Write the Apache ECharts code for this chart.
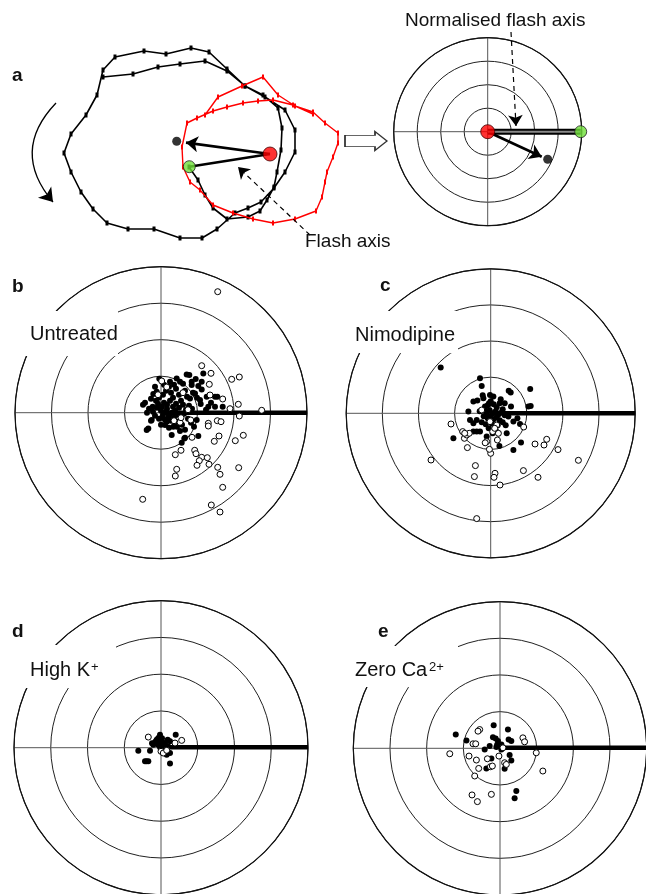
<!DOCTYPE html>
<html><head><meta charset="utf-8">
<script src="https://cdn.jsdelivr.net/npm/echarts@6/dist/echarts.min.js"></script>
<style>html,body{margin:0;padding:0;background:#fff}#c{width:646px;height:894px}</style>
</head><body><div id="c"></div>
<script>
// ---------- Panel a (left): cell trajectories, read in picture units ----------
const blackTrajectory = [[189,167],[198,180],[205,195],[213,208],[227,219],[248,217],[260,211],[267,200],[274,187],[277,172],[281,150],[282,128],[278,108],[263,95],[245,86],[227,69],[209,52],[191,48],[166,54],[144,51],[115,57],[103,70],[97,95],[86,115],[71,134],[64,153],[71,172],[81,192],[93,209],[107,223],[128,229],[154,229],[180,238],[202,238],[217,229],[235,213],[248,208],[261,202],[274,188],[285,172],[295,152],[295,130],[285,110],[265,97],[245,86],[227,71],[205,61],[180,64],[158,67],[133,74],[103,77]];
const redTrajectory = [[205,115],[218,97],[242,86],[263,77],[278,95],[295,106],[313,112],[325,123],[338,133],[338,143],[333,157],[327,172],[325,182],[322,197],[316,211],[295,219],[273,223],[253,219],[233,213],[213,205],[200,190],[190,182],[183,167],[182,147],[187,123],[197,118],[213,111],[227,107],[243,103],[258,101],[273,100],[293,105],[313,114]];
const redCentre = [270,154];
const blackCentre = [176.7,141.3];
const greenPoint = [189.3,166.7];
const blackArrowTip = [186,142.6];
const flashPointer = [[310,235],[238,167]];
const normPointer = [[511,32],[516,126]];
const turnArrow = [[56,103],[53,202]];
const transformArrow = [366,141];

// ---------- Panel a (right): normalised vectors (offsets from centre) ----------
const normGreen = [93,0];
const normBlack = [60,-27.6];
const normArrowTip = [54,-25];

// ---------- Panels b-e: displacement points (dx right, dy up) ----------
const bFilled = [[-1.7,34],[15.7,34.3],[19,31],[22,29],[28.3,37.7],[42.3,39.3],[30.7,31],[37.3,26.7],[40.7,23.3],[34,19.3],[29,14.3],[39,12.7],[45.7,16],[54,16],[56.3,16],[61.7,6],[54,6],[47.3,6],[39.7,8.7],[-16,10],[-7.7,18.7],[-8.3,6],[-14.3,-17.3],[-9.3,-7.3],[10.7,-22.3],[20.7,-30],[23.3,-25.7],[37.3,-23.3],[12.3,-14],[5.7,-9],[25.7,38.3],[34.7,33.7],[30.7,27.7],[40.7,31],[-4.3,21],[-12.7,-15.7],[4,-12.3],[14,-10.7],[19,-18.3],[24,-25],[35.7,-7.3],[-10,14],[-5,12],[-2,15],[2,18],[5,22],[8,26],[10,20],[12,15],[15,24],[18,18],[20,12],[24,22],[26,16],[3,10],[6,8],[9,12],[12,6],[15,9],[18,5],[22,8],[25,3],[28,7],[31,4],[-12,4],[-8,1],[-4,5],[0,2],[2,-2],[5,1],[8,-3],[11,0],[14,2],[17,-2],[20,-4],[23,-1],[-6,-3],[-2,-6],[1,-5],[4,-7],[7,-5],[10,-8],[13,-5],[16,-9],[-14,0],[-3,9],[1,6],[6,4],[9,-1],[27,-6],[30,-10],[-10,-8],[0,-12],[8,-15],[16,-14],[21,-12],[3,28],[9,31],[13,28],[-6,26],[32,20],[36,15],[45,3],[50,10],[-18,8],[24,-17],[33,-14]];
const bOpen = [[56.7,121],[40.7,47],[50,39.4],[70.7,33.4],[78.3,35.7],[48.3,28.4],[49,17.7],[61.7,13.7],[69,4],[77.3,8.4],[100.7,2.4],[78.3,-3.3],[56.3,-8],[60,-9],[47.3,-10.6],[47.3,-13.3],[82.3,-22.6],[58,-23.3],[74.3,-28],[53.3,-28.6],[31,-24.6],[20,-37.6],[14.3,-42],[33.7,-37.6],[35,-41],[40.7,-44.6],[38.3,-48],[46.3,-45],[36,-52.6],[48,-51.6],[56.7,-54.6],[77.7,-55],[15.7,-56.6],[14.3,-63.3],[59,-61.6],[61.7,-74.6],[-18.3,-86.6],[50.3,-92.3],[59,-99.3],[5.7,25.7],[0.7,31.7],[19,-9.6],[29.7,-7.3],[20,-5],[27,3],[13,-8],[-3,18],[22,20]];
const cFilled = [[-50,45.7],[-10.7,35],[-9,27.3],[39.5,24.3],[20,20.7],[18,22.5],[-17.3,11.7],[-13.3,12.7],[-7.3,15],[-0.7,18.3],[2.7,16.7],[-1.7,10],[-5.7,6.7],[-22.3,1.7],[-20.7,-6.7],[-17.3,-10],[-14,-6.7],[-10.7,-18.3],[-37.3,-25],[-17.3,-18.3],[-14,-18.3],[17.7,-3.3],[22.7,-8.3],[26.7,-5],[29.3,-10.7],[37.7,6.7],[40,7.3],[20.3,6.7],[16,-20],[8.7,-32.7],[22.7,-36.7],[30.3,-29.3],[-4,-23.3],[-6,4],[-3,8],[0,12],[3,9],[6,6],[9,10],[12,4],[-4,0],[-1,3],[2,0],[5,2],[8,-1],[11,1],[14,-2],[-7,-3],[-3,-5],[0,-3],[3,-6],[6,-4],[9,-7],[12,-9],[-9,-9],[-5,-11],[1,-10],[4,-13],[7,-12],[-2,-15],[2,-20],[5,-17],[10,14],[14,10],[-11,2],[15,-12],[-8,18]];
const cOpen = [[-39.7,-10.7],[-28,-18.3],[-26.3,-25],[-24,-21.7],[-21.5,-20],[-23.3,-34.3],[-59.7,-46.7],[-15.3,-52.3],[-16.3,-63.3],[4.3,-60],[3.3,-64],[9.3,-71.7],[-14,-105.3],[32.7,-57.3],[47.3,-64],[44.3,-30.7],[53.3,-31.7],[56,-26],[67.3,-36.3],[87.7,-47],[33,-13.7],[0,-40],[-1.3,-36],[-4,-28.3],[-5.5,-29.5],[6.7,-26.7],[7.7,-20],[6,-11.7],[-0.7,-8.3],[-9,3.3],[2,-18.3],[-26,-20],[4,-15]];
const dFilled = [[-22.7,-3.3],[-11,-3.3],[-16,-14],[-12.7,-14],[-14.5,-14],[-6,5],[-4.3,7.7],[-2.7,9.3],[-1,12.7],[0.7,6],[2.3,2.7],[-2.7,2.7],[-7.7,2.7],[4,4.3],[6.7,7.7],[14.7,12.7],[9,6],[4,-5.7],[5.7,-7.3],[9,-5.7],[9,-16.3],[-4,4],[1,9],[-5,6],[3,-3],[7,1],[-9,4],[-1,0]];
const dOpen = [[-12.7,10.3],[14,4.3],[20.7,7],[0,-4],[2.3,-5.7],[5.7,-3]];
const eFilled = [[-44,13.3],[-33.3,7.3],[-6,22.7],[8.3,18.3],[-6.7,10.7],[-4,9.3],[-1.7,6.7],[-10,1.7],[-15,-1.7],[-2.5,3],[1.7,3.3],[9,8.3],[11.7,6.7],[1.7,-1.7],[10,-7.3],[11.7,-12.7],[-8.3,-10.7],[-13.3,-20.7],[5,-21],[16.7,-43.3],[15,-50.7],[-3.3,0.7],[-0.7,1.7]];
const eOpen = [[-20,18.3],[-21.7,16.7],[-26.7,4],[-24,4],[-50,-6],[-30.7,-8.3],[-23.3,-12.3],[-12.3,-11],[-9.3,-19],[-7.3,-18.3],[-21,-20.7],[-25,-28.3],[-0.7,-8.3],[5,-15],[6.7,-16.7],[23.3,10],[25,6],[36.7,-5],[43.3,-23.3],[-27.7,-47.3],[-22.3,-54],[-8.3,-46.7],[3.3,0]];

// ---------- Layout (positions/sizes) ----------
const FONT = '"Liberation Sans", Arial, Helvetica, sans-serif';
const panels = [
  {cx:487.7, cy:131.7, r:94},
  {cx:161,   cy:412.7, r:146},
  {cx:490.7, cy:413.3, r:144.5},
  {cx:161,   cy:747.7, r:147},
  {cx:500,   cy:748.3, r:146.7}
];
const scatterSets = [[bFilled,bOpen],[cFilled,cOpen],[dFilled,dOpen],[eFilled,eOpen]];

const chart = echarts.init(document.getElementById('c'), null, {renderer:'canvas'});

const grids = [{left:0, top:0, width:646, height:260}].concat(
  panels.map(p => ({left:p.cx-p.r, top:p.cy-p.r, width:2*p.r, height:2*p.r})));
const xAxes = [{gridIndex:0, type:'value', min:0, max:646, show:false}].concat(
  panels.map((p,i) => ({gridIndex:i+1, type:'value', min:-p.r, max:p.r, show:false})));
const yAxes = [{gridIndex:0, type:'value', min:0, max:260, inverse:true, show:false}].concat(
  panels.map((p,i) => ({gridIndex:i+1, type:'value', min:-p.r, max:p.r, show:false})));

const series = [];
panels.forEach((p,i) => series.push({type:'scatter', coordinateSystem:'polar', polarIndex:i, data:[], silent:true}));

// Panel a left
series.push({type:'line', xAxisIndex:0, yAxisIndex:0, data:blackTrajectory, showAllSymbol:true,
  symbol:'rect', symbolSize:[3,5], itemStyle:{color:'#000'}, lineStyle:{color:'#000', width:1.6}, z:3});
series.push({type:'line', xAxisIndex:0, yAxisIndex:0, data:redTrajectory, showAllSymbol:true,
  symbol:'rect', symbolSize:[2,5], itemStyle:{color:'#f00'}, lineStyle:{color:'#f00', width:1.4}, z:4});
series.push({type:'line', xAxisIndex:0, yAxisIndex:0, data:[redCentre, greenPoint], symbol:'none',
  lineStyle:{color:'#000', width:2.6}, z:5});
series.push({type:'lines', coordinateSystem:'cartesian2d', xAxisIndex:0, yAxisIndex:0, z:5, silent:true,
  symbol:['none','arrow'], symbolSize:12, lineStyle:{color:'#000', width:2.6, opacity:1},
  data:[{coords:[redCentre, blackArrowTip]}]});
series.push({type:'lines', coordinateSystem:'cartesian2d', xAxisIndex:0, yAxisIndex:0, z:5, silent:true,
  symbol:['none','arrow'], symbolSize:11, lineStyle:{color:'#000', width:1.2, type:[5,4], opacity:1},
  data:[{coords:flashPointer},{coords:normPointer}]});
series.push({type:'lines', coordinateSystem:'cartesian2d', xAxisIndex:0, yAxisIndex:0, z:5, silent:true,
  symbol:['none','arrow'], symbolSize:13, lineStyle:{color:'#000', width:1.3, curveness:-0.45, opacity:1},
  data:[{coords:turnArrow}]});
series.push({type:'scatter', xAxisIndex:0, yAxisIndex:0, data:[transformArrow], z:6,
  symbol:'path://M0,4 L30,4 L30,0 L42,10 L30,20 L30,16 L0,16 Z', symbolSize:[42,19],
  itemStyle:{color:'#fff', borderColor:'#000', borderWidth:1.2}});
series.push({type:'scatter', xAxisIndex:0, yAxisIndex:0, data:[blackCentre], symbolSize:9, z:7, itemStyle:{color:'#000'}});
series.push({type:'scatter', xAxisIndex:0, yAxisIndex:0, data:[greenPoint], symbolSize:12, z:7, itemStyle:{color:'#6fe03a', borderColor:'#222', borderWidth:1}});
series.push({type:'scatter', xAxisIndex:0, yAxisIndex:0, data:[redCentre], symbolSize:14, z:7, itemStyle:{color:'#f00', borderColor:'#400', borderWidth:1}});

// Panel a right
series.push({type:'line', xAxisIndex:1, yAxisIndex:1, data:[[0,0], normGreen], symbol:'none', lineStyle:{color:'#000', width:6}, z:4});
series.push({type:'line', xAxisIndex:1, yAxisIndex:1, data:[[0,0], normGreen], symbol:'none', lineStyle:{color:'#8a8a8a', width:2}, z:5});
series.push({type:'lines', coordinateSystem:'cartesian2d', xAxisIndex:1, yAxisIndex:1, z:5, silent:true,
  symbol:['none','arrow'], symbolSize:12, lineStyle:{color:'#000', width:2.6, opacity:1},
  data:[{coords:[[0,0], normArrowTip]}]});
series.push({type:'scatter', xAxisIndex:1, yAxisIndex:1, data:[normBlack], symbolSize:9, z:7, itemStyle:{color:'#000'}});
series.push({type:'scatter', xAxisIndex:1, yAxisIndex:1, data:[normGreen], symbolSize:12, z:7, itemStyle:{color:'#6fe03a', borderColor:'#222', borderWidth:1}});
series.push({type:'scatter', xAxisIndex:1, yAxisIndex:1, data:[[0,0]], symbolSize:14, z:7, itemStyle:{color:'#f00', borderColor:'#400', borderWidth:1}});

// Panels b-e
scatterSets.forEach((set,k) => {
  const gi = k+2, p = panels[k+1];
  series.push({type:'line', xAxisIndex:gi, yAxisIndex:gi, data:[[0,0],[p.r,0]], symbol:'none', lineStyle:{color:'#000', width:4.5}, z:3});
  series.push({type:'scatter', xAxisIndex:gi, yAxisIndex:gi, data:set[0], symbolSize:6, z:4, itemStyle:{color:'#000', opacity:1}});
  series.push({type:'scatter', xAxisIndex:gi, yAxisIndex:gi, data:set[1], symbolSize:6, z:5, itemStyle:{color:'#fff', borderColor:'#000', borderWidth:1, opacity:1}});
});

function txt(text, x, baseline, size, weight) {
  return {type:'text', z:101, x:x, y:baseline - 0.35*size,
    style:{text:text, fill:'#111', font:(weight||'normal') + ' ' + size + 'px ' + FONT,
      textVerticalAlign:'middle', verticalAlign:'middle', textAlign:'left', align:'left'}};
}
function box(x,y,w,h){ return {type:'rect', z:100, shape:{x:x,y:y,width:w,height:h}, style:{fill:'#fff'}}; }

const graphic = [
  box(25,311,93,45), box(352,311,106,42), box(22,645,94,43), box(352,646,106,41),
  txt('a',12,82,19,'bold'), txt('b',12,293,19,'bold'), txt('c',380,292,19,'bold'),
  txt('d',12,638,19,'bold'), txt('e',378,638,19,'bold'),
  txt('Untreated',30,341,20), txt('Nimodipine',355,342,20),
  txt('High K',30,677,20), txt('+',91,672,13),
  txt('Zero Ca',355,677,20), txt('2+',429,672,13),
  txt('Normalised flash axis',405,27,19), txt('Flash axis',305,248,19)
];

chart.setOption({
  animation:false,
  backgroundColor:'#fff',
  polar: panels.map(p => ({center:[p.cx,p.cy], radius:p.r})),
  angleAxis: panels.map((p,i) => ({polarIndex:i, type:'value', min:0, max:360, interval:90, startAngle:90,
    axisLine:{show:true, lineStyle:{color:'#111', width:1.2}}, axisTick:{show:false}, axisLabel:{show:false},
    splitLine:{show:true, lineStyle:{color:'#555', width:1}}})),
  radiusAxis: panels.map((p,i) => ({polarIndex:i, type:'value', min:0, max:p.r, interval:p.r/4,
    axisLine:{show:false}, axisTick:{show:false}, axisLabel:{show:false},
    splitLine:{show:true, lineStyle:{color:'#222', width:1}}})),
  grid: grids, xAxis: xAxes, yAxis: yAxes,
  series: series,
  graphic: graphic
});
</script></body></html>
